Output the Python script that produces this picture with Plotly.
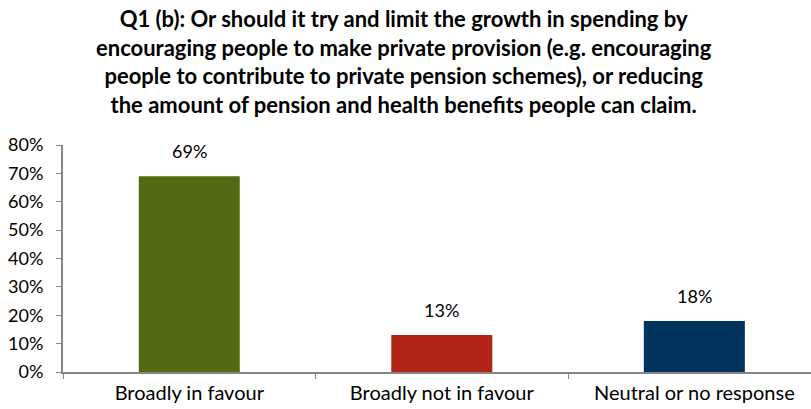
import plotly.graph_objects as go

categories = ["Broadly in favour", "Broadly not in favour", "Neutral or no response"]
values = [0.69, 0.13, 0.18]
bar_colors = ["#546A12", "#B22418", "#00345E"]
y_ticks = [0, 0.1, 0.2, 0.3, 0.4, 0.5, 0.6, 0.7, 0.8]
y_tick_labels = ["0%", "10%", "20%", "30%", "40%", "50%", "60%", "70%", "80%"]
title_text = ("Q1 (b): Or should it try and limit the growth in spending by<br>"
              "encouraging people to make private provision (e.g. encouraging<br>"
              "people to contribute to private pension schemes), or reducing<br>"
              "the amount of pension and health benefits people can claim.")

font_family = "Lato"

fig = go.Figure()
fig.add_trace(go.Bar(
    x=categories,
    y=values,
    marker=dict(color=bar_colors, line=dict(width=0)),
    width=0.4,
))

annotations = [dict(
    text=title_text, xref="paper", yref="paper",
    x=(404 - 63) / 748, y=1, yanchor="bottom", xanchor="center",
    yshift=25, showarrow=False, align="center",
    font=dict(family=font_family, size=22, color="#000000", weight="bold"),
)]
for c, v in zip(categories, values):
    annotations.append(dict(
        text=f"{round(v*100)}%", x=c, y=v, xref="x", yref="y",
        yanchor="bottom", yshift=12, showarrow=False,
        font=dict(family=font_family, size=18, color="#000000"),
    ))

fig.update_layout(
    width=811, height=409,
    margin=dict(l=63, r=0, t=145, b=37),
    paper_bgcolor="white", plot_bgcolor="white",
    showlegend=False,
    annotations=annotations,
)

fig.update_xaxes(
    range=[-0.5, 2.462],
    showline=True, linecolor="#868686", linewidth=2,
    ticks="outside", tickson="boundaries", ticklen=5, tickcolor="#868686", tickwidth=1,
    tickfont=dict(family=font_family, size=20, color="#000000"),
    ticklabelstandoff=2,
    showgrid=False, zeroline=False,
)
fig.update_yaxes(
    range=[0, 0.8],
    tickvals=y_ticks, ticktext=y_tick_labels,
    showline=True, linecolor="#868686", linewidth=2,
    ticks="outside", ticklen=5, tickcolor="#868686", tickwidth=1,
    tickfont=dict(family=font_family, size=18, color="#000000"),
    ticklabelstandoff=9,
    showgrid=False, zeroline=False,
)

fig.write_html("out.html")
